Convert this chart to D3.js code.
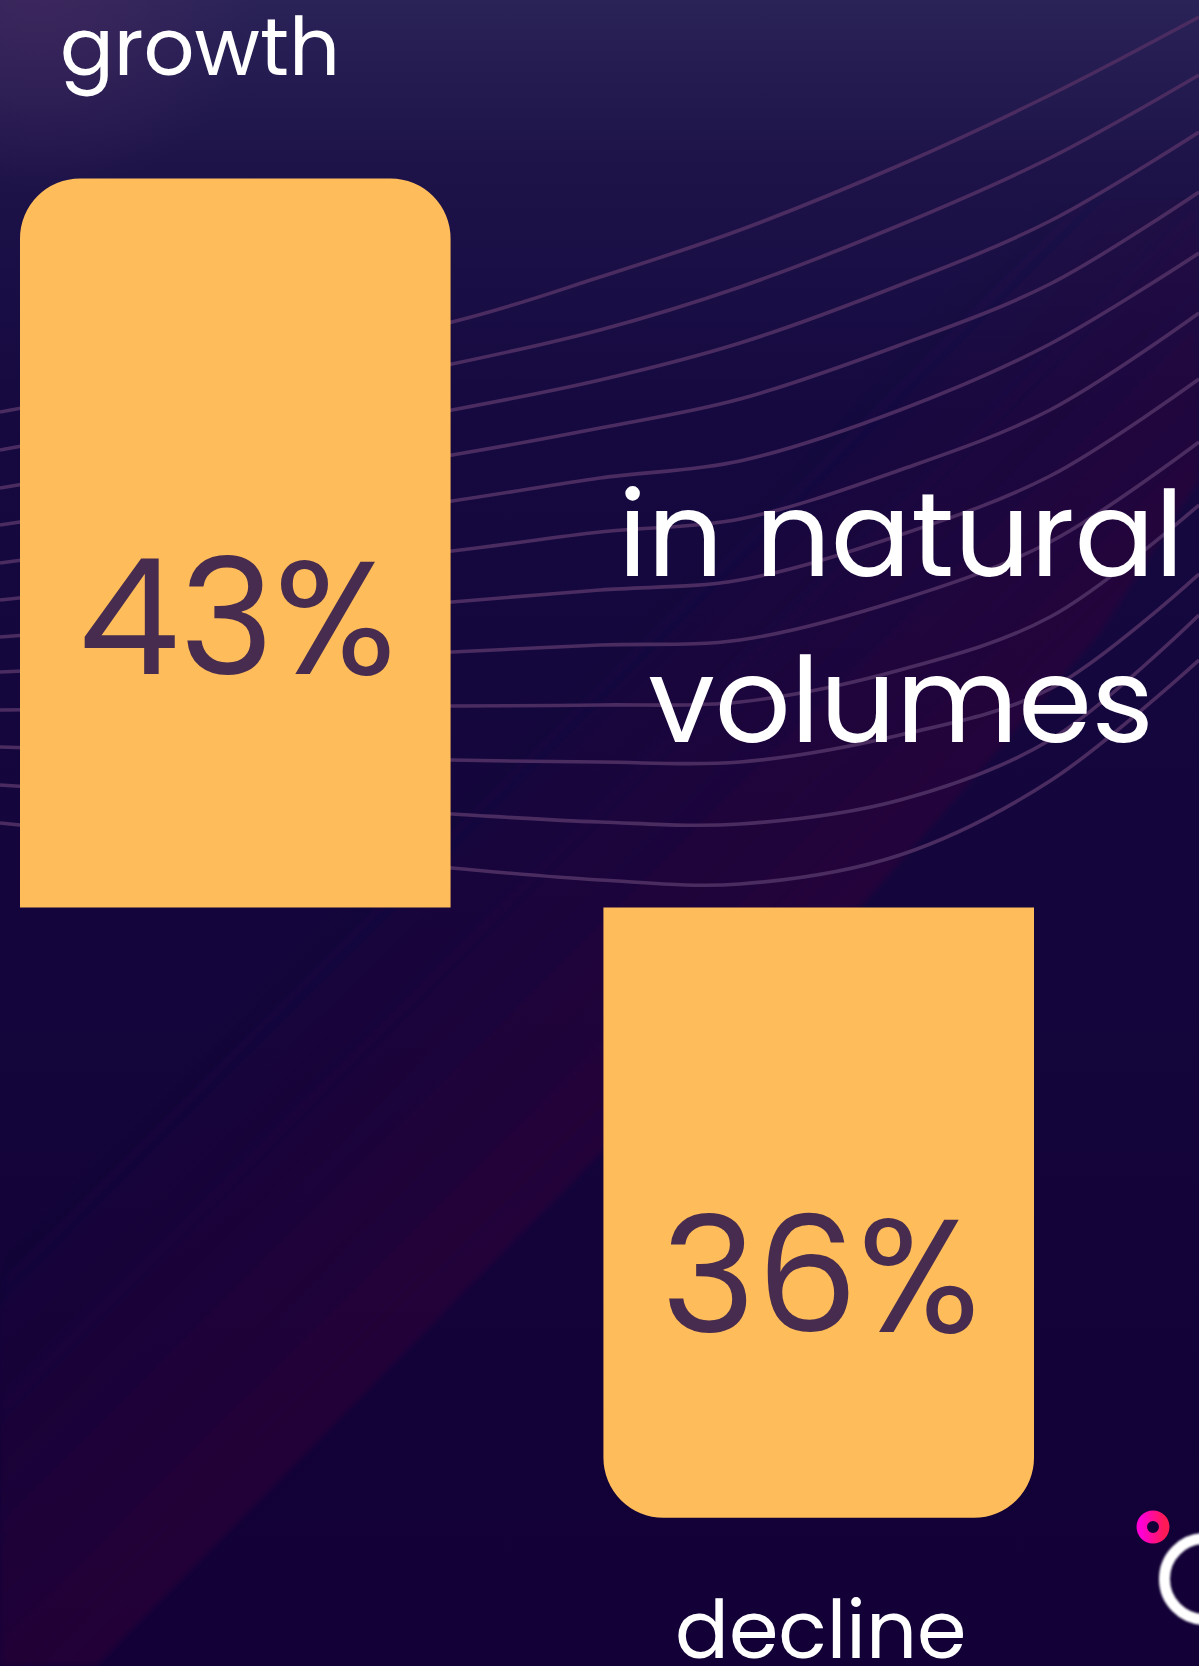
<!DOCTYPE html>
<html>
<head>
<meta charset="utf-8">
<title>Natural volumes</title>
<script src="https://cdn.jsdelivr.net/npm/d3@7.9.0/dist/d3.min.js"></script>
<style>
  body { margin: 0; background: #12003a; }
  svg { display: block; }
</style>
</head>
<body>
<svg id="chart"></svg>
<script>
const categories = ["growth", "decline"];
const values = [43, 36];
const valueLabels = ["43%", "36%"];
const captionLines = ["in natural", "volumes"];

// background swoosh lines, y read at a few x columns
const waveX = [0, 452, 600, 740, 900, 1050, 1199];
const waveRows = [
  [412, 322, 277, 230, 165, 95, 17],
  [450, 364, 330, 287, 225, 158, 75],
  [488, 410, 380, 343, 285, 221, 132],
  [525, 455, 428, 399, 345, 284, 192],
  [563, 501, 478, 461, 410, 344, 253],
  [600, 551, 532, 519, 470, 410, 313],
  [637, 602, 590, 580, 535, 476, 379],
  [672, 652, 645, 640, 600, 542, 442],
  [710, 706, 705, 702, 670, 617, 505],
  [747, 760, 762, 762, 735, 689, 574],
  [785, 814, 822, 824, 800, 740, 615],
  [823, 868, 880, 884, 855, 781, 660],
];

const width = 1199;
const height = 1666;
const zeroY = 907.5;
const fontStack = "Poppins, Inter, 'Noto Sans', sans-serif";

const svg = d3.select("#chart").attr("width", width).attr("height", height);
const defs = svg.append("defs");

const bg = defs.append("linearGradient")
  .attr("id", "bg").attr("x1", 0).attr("y1", 0).attr("x2", 0).attr("y2", 1);
bg.append("stop").attr("offset", 0).attr("stop-color", "#2a2358");
bg.append("stop").attr("offset", 0.1).attr("stop-color", "#1d1349");
bg.append("stop").attr("offset", 0.25).attr("stop-color", "#150940");
bg.append("stop").attr("offset", 1).attr("stop-color", "#120036");

const glow = defs.append("radialGradient")
  .attr("id", "glow").attr("gradientUnits", "userSpaceOnUse")
  .attr("cx", 40).attr("cy", -20).attr("r", 220);
glow.append("stop").attr("offset", 0).attr("stop-color", "#45295f").attr("stop-opacity", 0.7);
glow.append("stop").attr("offset", 1).attr("stop-color", "#45295f").attr("stop-opacity", 0);

const band = defs.append("linearGradient")
  .attr("id", "band").attr("gradientUnits", "userSpaceOnUse")
  .attr("x1", 600).attr("y1", 1154).attr("x2", 340).attr("y2", 894);
band.append("stop").attr("offset", 0).attr("stop-color", "#340a38").attr("stop-opacity", 0.5);
band.append("stop").attr("offset", 1).attr("stop-color", "#340a38").attr("stop-opacity", 0);

const pink = defs.append("linearGradient")
  .attr("id", "pink").attr("x1", 0).attr("y1", 0).attr("x2", 1).attr("y2", 0);
pink.append("stop").attr("offset", 0).attr("stop-color", "#ff00d4");
pink.append("stop").attr("offset", 1).attr("stop-color", "#ff1a55");

defs.append("filter").attr("id", "soft")
  .append("feGaussianBlur").attr("stdDeviation", 0.8);
defs.append("filter").attr("id", "edge")
  .append("feGaussianBlur").attr("stdDeviation", 3);

svg.append("rect").attr("width", width).attr("height", height).attr("fill", "url(#bg)");
svg.append("rect").attr("width", width).attr("height", height).attr("fill", "url(#glow)");
svg.append("path")
  .attr("d", "M96,1666 L600,1154 L867,900 L1100,633 L1199,480 L1199,200 L0,200 L0,1666 Z")
  .attr("fill", "url(#band)")
  .attr("filter", "url(#edge)");

const wave = d3.line().curve(d3.curveCatmullRom.alpha(0.5));
svg.append("g")
  .selectAll("path")
  .data(waveRows)
  .join("path")
  .attr("d", (row) => wave(row.map((y, i) => [waveX[i], y])))
  .attr("fill", "none")
  .attr("stroke", "#4b2c61")
  .attr("stroke-width", 3.6);

const x = d3.scaleBand().domain(categories).range([20, 1034]).paddingInner(0.262);
const y = d3.scaleLinear().domain([0, d3.max(values)]).range([0, 729]);
const r = 60;

function barPath(cat, v, i) {
  const x0 = x(cat);
  const w = x.bandwidth();
  const h = y(v);
  if (i === 0) {
    const top = zeroY - h;
    return `M${x0},${zeroY} V${top + r} A${r},${r} 0 0 1 ${x0 + r},${top} H${x0 + w - r} A${r},${r} 0 0 1 ${x0 + w},${top + r} V${zeroY} Z`;
  }
  const bottom = zeroY + h;
  return `M${x0},${zeroY} H${x0 + w} V${bottom - r} A${r},${r} 0 0 1 ${x0 + w - r},${bottom} H${x0 + r} A${r},${r} 0 0 1 ${x0},${bottom - r} Z`;
}

svg.append("g")
  .selectAll("path")
  .data(categories)
  .join("path")
  .attr("d", (d, i) => barPath(d, values[i], i))
  .attr("fill", "#febc5a");

function fitSize(node, target) {
  const fs = parseFloat(node.getAttribute("font-size"));
  return fs * target / node.getComputedTextLength();
}

// value labels inside bars
const valueText = svg.append("g")
  .selectAll("text")
  .data(categories)
  .join("text")
  .attr("x", (d) => x(d) + x.bandwidth() / 2 + 2)
  .attr("y", (d, i) => (i === 0 ? zeroY - 234 : zeroY + y(values[i]) - 186))
  .attr("text-anchor", "middle")
  .attr("font-family", fontStack)
  .attr("font-size", 160)
  .attr("fill", "#472c4f")
  .text((d, i) => valueLabels[i]);
const valueSize = fitSize(valueText.node(), 318);
valueText.attr("font-size", valueSize);

// category labels
const catText = svg.append("g")
  .selectAll("text")
  .data(categories)
  .join("text")
  .attr("x", (d, i) => (i === 0 ? 60 : x(d) + x.bandwidth() / 2 + 2))
  .attr("y", (d, i) => (i === 0 ? 75 : 1658))
  .attr("text-anchor", (d, i) => (i === 0 ? "start" : "middle"))
  .attr("font-family", fontStack)
  .attr("font-size", 80)
  .attr("fill", "#ffffff")
  .text((d) => d);
const catSize = fitSize(catText.node(), 280);
catText.attr("font-size", catSize);

// caption
const caption = svg.append("g")
  .selectAll("text")
  .data(captionLines)
  .join("text")
  .attr("x", 901)
  .attr("y", (d, i) => (i === 0 ? 576 : 742))
  .attr("text-anchor", "middle")
  .attr("font-family", fontStack)
  .attr("font-size", 120)
  .attr("fill", "#ffffff")
  .text((d) => d);
const capSize = fitSize(caption.node(), 566);
caption.attr("font-size", capSize);

// corner logo
svg.append("circle")
  .attr("cx", 1153).attr("cy", 1527).attr("r", 11.2)
  .attr("fill", "none").attr("stroke", "url(#pink)").attr("stroke-width", 10.5);
svg.append("circle")
  .attr("cx", 1205).attr("cy", 1579).attr("r", 40.5)
  .attr("fill", "none").attr("stroke", "#ffffff").attr("stroke-width", 11)
  .attr("filter", "url(#soft)");
</script>
</body>
</html>
